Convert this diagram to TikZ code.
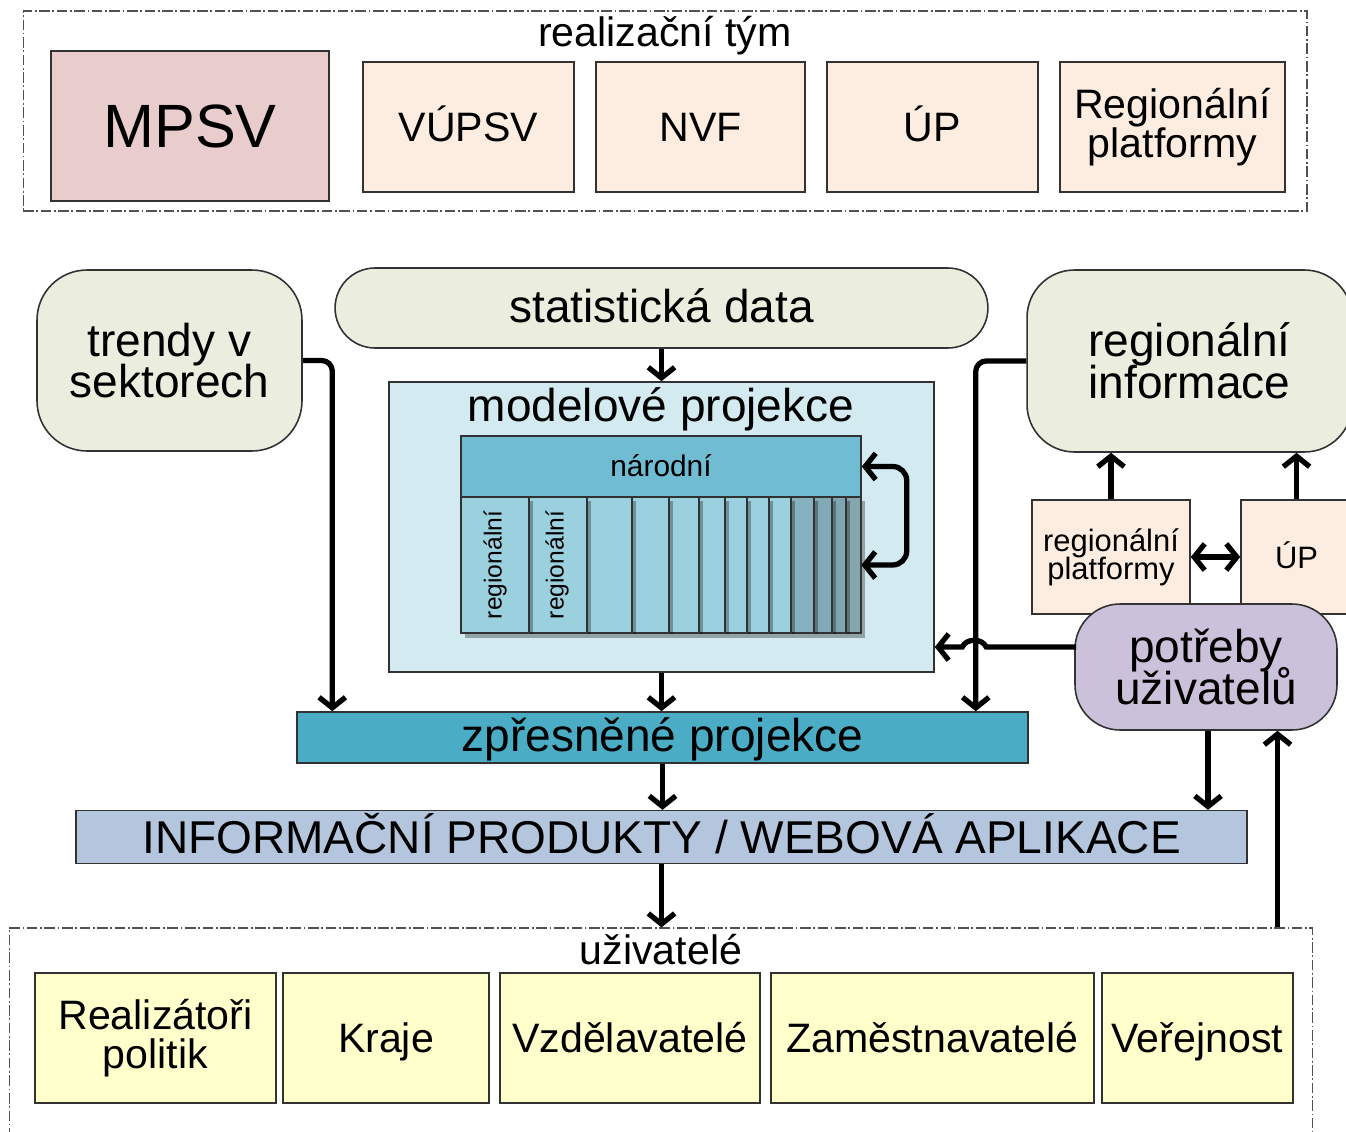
\documentclass[tikz,border=0pt]{standalone}
\usepackage{fontspec}
\setmainfont{Liberation Sans}
\usetikzlibrary{arrows.meta,calc}

\definecolor{cPink}{RGB}{233,204,204}
\definecolor{cPeach}{RGB}{253,237,225}
\definecolor{cGreen}{RGB}{235,238,222}
\definecolor{cLight}{RGB}{210,234,240}
\definecolor{cNar}{RGB}{112,189,211}
\definecolor{cCol}{RGB}{155,208,222}
\definecolor{cColA}{RGB}{133,178,190}
\definecolor{cColB}{RGB}{128,170,181}
\definecolor{cColC}{RGB}{127,166,176}
\definecolor{cColD}{RGB}{134,166,175}
\definecolor{cZp}{RGB}{75,172,198}
\definecolor{cInfo}{RGB}{180,198,222}
\definecolor{cPot}{RGB}{204,193,218}
\definecolor{cYel}{RGB}{255,255,204}
\definecolor{cLine}{RGB}{50,50,50}
\newcommand\tightlines{\lineskiplimit -100pt\relax}

\begin{document}
\begin{tikzpicture}[x=0.02cm,y=-0.02cm,
  box/.style={draw=cLine, line width=0.9pt, inner sep=0pt, align=center},
  frame/.style={draw=cLine!85, line width=0.7pt, dash pattern=on 6pt off 1.5pt on 1pt off 1.5pt, inner sep=0pt},
  big/.style={font=\fontsize{26.2}{23.6}\selectfont\tightlines},
  med/.style={font=\fontsize{23.4}{22.5}\selectfont\tightlines},
  small/.style={font=\fontsize{17.6}{16}\selectfont\tightlines},
  bigS/.style={big, text height=24.4pt, text depth=5.6pt},
  medS/.style={med, text height=21.8pt, text depth=5pt},
  smallS/.style={small, text height=16.4pt, text depth=3.8pt},
  arr/.style={line width=3pt, -{Straight Barb[length=6pt,width=15pt]}},
  darr/.style={line width=3pt, {Straight Barb[length=6pt,width=15pt]}-{Straight Barb[length=6pt,width=15pt]}}
]
\useasboundingbox (0,0) rectangle (1346,1132);

% realizacni tym
\node[frame, minimum width=25.68cm, minimum height=4cm] (team) at (665,111) {};
\node[med] (teamtitle) at (665,36) {realizační tým};
\node[box, fill=cPink, minimum width=5.56cm, minimum height=3cm, font=\fontsize{34.8}{36}\selectfont, text height=32.4pt, text depth=7.4pt] (mpsv) at (190,126) {MPSV};
\node[box, fill=cPeach, medS, minimum width=4.22cm, minimum height=2.6cm] (vupsv) at (468.5,127) {VÚPSV};
\node[box, fill=cPeach, medS, minimum width=4.18cm, minimum height=2.6cm] (nvf) at (700.5,127) {NVF};
\node[box, fill=cPeach, medS, minimum width=4.22cm, minimum height=2.6cm] (up) at (932.5,127) {ÚP};
\node[box, fill=cPeach, med, minimum width=4.5cm, minimum height=2.6cm] (regplat) at (1172.5,127) {Regionální\\platformy};

% sources
\node[box, fill=cGreen, rounded corners=1cm, big, minimum width=5.3cm, minimum height=3.62cm] (trendy) at (169.5,360.5) {trendy v\\sektorech};
\node[box, fill=cGreen, rounded corners=0.8cm, big, text height=22pt, text depth=5.6pt, minimum width=13.06cm, minimum height=1.6cm] (stat) at (661.5,308) {statistická data};
\node[box, fill=cGreen, rounded corners=0.95cm, big, minimum width=6.5cm, minimum height=3.64cm] (reginfo) at (1189.5,361) {regionální\\informace};

% model projections
\node[box, fill=cLight, minimum width=10.9cm, minimum height=5.8cm] (mp) at (661.5,527) {};
\node[big] (mptitle) at (661,409) {modelové projekce};
\foreach \xa/\xb/\cc in {846/861/cColD, 832/846/cColC, 814/832/cColB, 791/814/cColA, 769/791/cCol, 747/769/cCol, 725/747/cCol, 699/725/cCol, 669/699/cCol, 632/669/cCol, 587/632/cCol, 529/587/cCol, 461/529/cCol} {
  \fill[black, opacity=0.3] (\xa+4,501) rectangle (\xb+4,638);
  \draw[cLine, line width=0.9pt, fill=\cc] (\xa,497) rectangle (\xb,633);
}
\node[box, fill=cNar, minimum width=8cm, minimum height=1.22cm, font=\fontsize{17}{18}\selectfont, text height=15pt, text depth=3.6pt] (narodni) at (661,466.5) {národní};
\node[inner sep=0pt, minimum width=8cm, minimum height=2.72cm] (cols) at (661,565) {};
\node[rotate=90, font=\fontsize{14}{15}\selectfont] (reg1) at (495,565) {regionální};
\node[rotate=90, font=\fontsize{14}{15}\selectfont] (reg2) at (557,565) {regionální};

\node[box, fill=cZp, big, text height=21.5pt, text depth=5.6pt, minimum width=14.62cm, minimum height=1.02cm] (zp) at (662.5,737.5) {zpřesněné projekce};
\node[box, fill=cInfo, bigS, minimum width=23.42cm, minimum height=1cm] (info) at (661.5,837) {INFORMAČNÍ PRODUKTY / WEBOVÁ APLIKACE};

% right side
\node[box, fill=cPeach, small, minimum width=3.16cm, minimum height=2.28cm] (rp) at (1111,557) {regionální\\platformy};
\node[box, fill=cPeach, smallS, minimum width=2.22cm, minimum height=2.28cm] (up2) at (1296.5,557) {ÚP};
\node[box, fill=cPot, rounded corners=0.9cm, big, minimum width=5.24cm, minimum height=2.52cm] (pot) at (1206,667) {potřeby\\uživatelů};

% users
\node[frame, minimum width=26.08cm, minimum height=4.64cm] (users) at (661,1044) {};
\node[med] (userstitle) at (661,950) {uživatelé};
\node[box, fill=cYel, med, minimum width=4.82cm, minimum height=2.6cm] (u1) at (155.5,1038) {Realizátoři\\politik};
\node[box, fill=cYel, medS, minimum width=4.12cm, minimum height=2.6cm] (u2) at (386,1038) {Kraje};
\node[box, fill=cYel, medS, minimum width=5.2cm, minimum height=2.6cm] (u3) at (630,1038) {Vzdělavatelé};
\node[box, fill=cYel, medS, minimum width=6.46cm, minimum height=2.6cm] (u4) at (932.5,1038) {Zaměstnavatelé};
\node[box, fill=cYel, medS, minimum width=3.82cm, minimum height=2.6cm] (u5) at (1197.5,1038) {Veřejnost};

% connectors
\draw[arr] (stat.south) -- (mp.north);
\draw[arr] (mp.south) -- (mp.south |- zp.north);
\draw[arr, rounded corners=6pt] (trendy.east) -| ([xshift=0.72cm]zp.north west);
\draw[arr, rounded corners=6pt] (reginfo.west) -| ([xshift=-1.06cm]zp.north east);
\draw[arr] (zp.south) -- (zp.south |- info.north);
\draw[arr] (info.south) -- (info.south |- users.north);
\coordinate (pdown) at ([xshift=0.04cm]pot.south);
\draw[arr] (pdown) -- (pdown |- info.north);
\coordinate (uup) at ([xshift=-0.72cm]users.north east);
\draw[arr] (uup) -- (uup |- pot.south);
\draw[arr] (rp.north) -- (rp.north |- reginfo.south);
\draw[arr] (up2.north) -- (up2.north |- reginfo.south);
\draw[darr] (rp.east) -- (up2.west);
\coordinate (loopc) at ([xshift=0.9cm]narodni.east);
\draw[darr, rounded corners=8pt] (narodni.east) -- (loopc) |- (cols.east);
\coordinate (ps) at ([shift={(0.04cm,0.4cm)}]pot.west);
\path (ps) ++(-90,0) coordinate (hr) ++(-24,0) coordinate (hl);
\draw[arr] (ps) -- (hr) .. controls ([shift={(-4,-9)}]hr) and ([shift={(4,-9)}]hl) .. (hl) -- (hl -| mp.east);
\end{tikzpicture}
\end{document}
